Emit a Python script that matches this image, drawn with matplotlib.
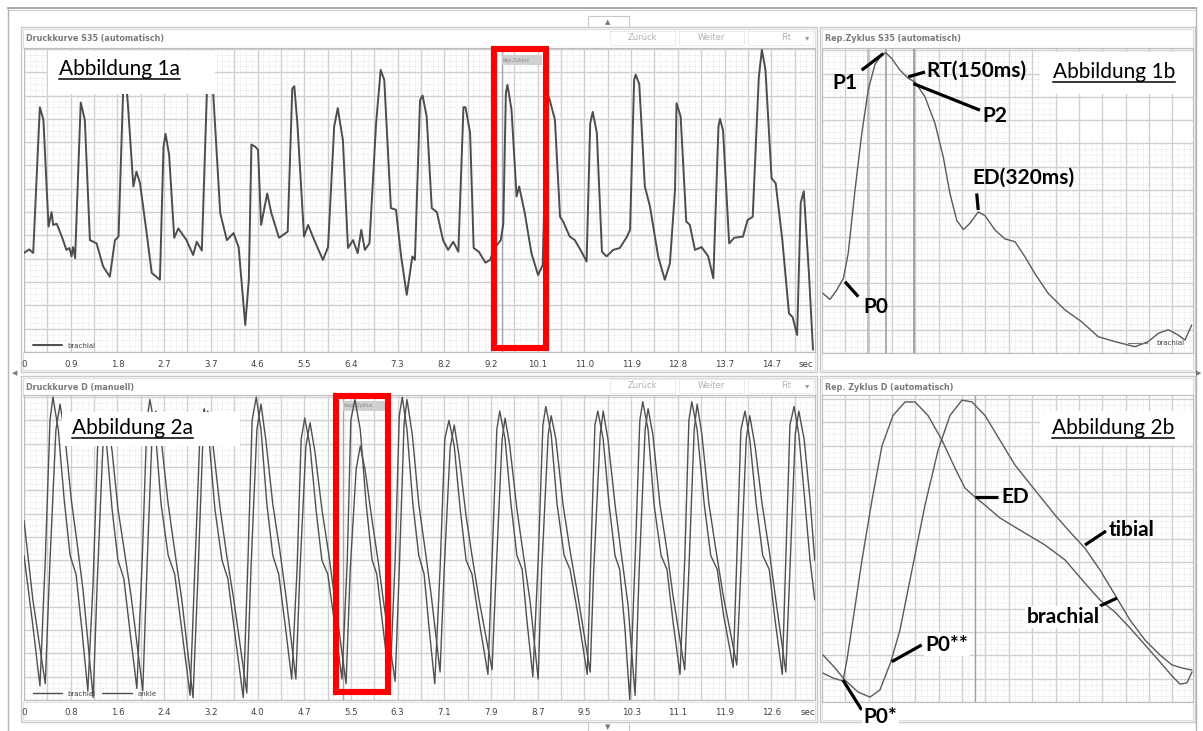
import numpy as np
import matplotlib
matplotlib.use('Agg')
import matplotlib.pyplot as plt
from matplotlib.patches import Rectangle

W, H = 1203, 731

# ---------------- data ----------------
# Abbildung 1a: Druckkurve S35, brachial (time in s, pressure in arbitrary units)
t_1a = [0.00, 0.10, 0.18, 0.31, 0.38, 0.48, 0.54, 0.57, 0.64, 0.74, 0.83, 0.89, 0.93, 0.96, 1.00,
        1.06, 1.11, 1.19, 1.29, 1.42, 1.55, 1.68, 1.78, 1.85, 1.94, 1.97, 2.04, 2.14, 2.20, 2.27,
        2.40, 2.50, 2.66, 2.73, 2.77, 2.84, 2.94, 3.02, 3.18, 3.31, 3.38, 3.48, 3.58, 3.63, 3.70,
        3.84, 3.97, 4.10, 4.20, 4.33, 4.40, 4.45, 4.53, 4.58, 4.64, 4.76, 4.84, 4.99, 5.16, 5.25,
        5.29, 5.35, 5.48, 5.56, 5.68, 5.85, 5.95, 6.07, 6.14, 6.24, 6.34, 6.44, 6.53, 6.60, 6.67,
        6.76, 6.89, 6.98, 7.05, 7.18, 7.28, 7.38, 7.49, 7.60, 7.65, 7.75, 7.80, 7.88, 7.98, 8.08,
        8.20, 8.30, 8.40, 8.50, 8.60, 8.64, 8.73, 8.80, 8.90, 9.03, 9.12, 9.22, 9.33, 9.38, 9.43,
        9.46, 9.54, 9.64, 9.69, 9.80, 9.93, 10.06, 10.15, 10.24, 10.29, 10.39, 10.49, 10.55, 10.68,
        10.78, 10.91, 11.01, 11.08, 11.13, 11.21, 11.31, 11.40, 11.53, 11.66, 11.80, 11.86, 11.94,
        11.97, 12.04, 12.15, 12.25, 12.41, 12.54, 12.64, 12.74, 12.77, 12.85, 12.96, 13.03, 13.13,
        13.26, 13.39, 13.49, 13.59, 13.62, 13.68, 13.80, 13.90, 14.07, 14.16, 14.26, 14.38, 14.44,
        14.51, 14.63, 14.71, 14.84, 14.97, 15.04, 15.13, 15.20, 15.26, 15.36, 15.44]
p_1a = [42.5, 44, 42.5, 105, 99.6, 53.8, 60, 54.5, 55, 49.5, 43.8, 44.6, 41, 45, 40.3,
        76.7, 107, 99.6, 48, 46.6, 36.6, 32.3, 48, 49.5, 112, 125, 104, 71, 77.4, 72.5,
        51, 33.9, 31, 88, 93.6, 84.5, 49, 53, 48, 41.6, 47.3, 43.5, 112, 116, 112,
        59.6, 48, 51, 45, 11.6, 31, 89, 88, 86.7, 54.5, 68, 59.6, 49, 51.6, 113,
        114, 98, 49.5, 54.5, 48, 39.5, 45, 96.7, 104.6, 91, 44.6, 48, 42.4, 52.4, 43.8,
        46.6, 98, 121, 116.7, 61.7, 61, 41, 24.5, 41, 39.5, 108, 110, 101, 61.7, 60,
        48, 43.8, 47.3, 43, 105, 105, 94, 44.6, 43, 38.3, 39.5, 45, 48, 55, 111,
        114.6, 104, 66.7, 71, 59.6, 42.4, 33, 37.3, 111, 108, 99.6, 58, 56, 49.5,
        48, 43, 38.8, 98, 103, 94, 43, 41, 43.8, 44.6, 49.5, 52.4, 116.7,
        119, 115, 71, 62.4, 41, 31, 38, 69.5, 106.7, 101, 56, 54.5, 43.8,
        45, 41, 31.6, 96.7, 100, 95, 46.6, 49, 49.5, 56.6, 58, 118, 129.6,
        121, 74.5, 72.4, 48, 16.6, 15, 7.3, 64, 69, 34, 1]
ticks_1a = ['0', '0.9', '1.8', '2.7', '3.7', '4.6', '5.5', '6.4', '7.3', '8.2', '9.2',
            '10.1', '11.0', '11.9', '12.8', '13.7', '14.7']

# Abbildung 1b: representative cycle S35 (time in ms)
t_1b = [-46, -30, -14.5, 0.8, 12, 27.6, 43, 58, 73.6, 89, 98, 112, 131, 150, 165.6, 188.6,
        211.6, 230.8, 246, 261.6, 276.8, 292, 311, 326.6, 349.6, 372.6, 395.6, 418.6, 441.6,
        472, 510.6, 549, 587, 625.6, 671.6, 702, 725, 748, 771, 786.6, 802]
p_1b = [25.6, 23, 27, 32, 42.8, 70, 94, 113, 124, 128, 129, 126.5, 121.5, 118, 116.4, 110,
        98.6, 84, 68.5, 57, 53, 55.7, 60.6, 59, 52.8, 49, 47.8, 41.3, 34,
        25.6, 18.5, 13.4, 7, 4.9, 2.7, 4.9, 8.4, 10, 7.7, 5.6, 12]
markers_1b = [57.5, 99, 163]

# Abbildung 2a: Druckkurve D, brachial and ankle (time in s)
t_2a_brachial = [0.00, 0.14, 0.27, 0.36, 0.44, 0.49, 0.58, 0.68, 0.78, 0.88, 0.98, 1.08,
                 1.17, 1.25, 1.30, 1.39, 1.49, 1.59, 1.69, 1.79, 1.91,
                 2.00, 2.08, 2.13, 2.22, 2.32, 2.44, 2.55, 2.67, 2.81,
                 2.89, 2.98, 3.05, 3.13, 3.23, 3.35, 3.45, 3.57, 3.71,
                 3.79, 3.86, 3.93, 4.01, 4.11, 4.21, 4.31, 4.42, 4.53,
                 4.62, 4.69, 4.75, 4.84, 4.94, 5.04, 5.14, 5.26, 5.38,
                 5.47, 5.53, 5.60, 5.69, 5.79, 5.89, 5.97, 6.07, 6.19,
                 6.28, 6.35, 6.40, 6.48, 6.58, 6.68, 6.77, 6.85, 6.95,
                 7.04, 7.12, 7.19, 7.28, 7.38, 7.48, 7.58, 7.70, 7.85,
                 7.92, 8.00, 8.05, 8.14, 8.24, 8.34, 8.43, 8.51, 8.61,
                 8.70, 8.78, 8.83, 8.92, 9.02, 9.14, 9.24, 9.37, 9.53,
                 9.59, 9.66, 9.71, 9.80, 9.90, 10.00, 10.08, 10.17, 10.25,
                 10.34, 10.42, 10.47, 10.56, 10.66, 10.78, 10.88, 10.98, 11.10,
                 11.18, 11.25, 11.30, 11.39, 11.51, 11.62, 11.73, 11.84, 12.00,
                 12.06, 12.13, 12.20, 12.28, 12.39, 12.50, 12.61, 12.71, 12.83,
                 12.89, 12.96, 13.03, 13.11, 13.21, 13.30, 13.38]
p_2a_brachial = [62, 34, 6, 60, 120, 130, 116, 86, 62, 54, 30, 4,
                 51, 112, 122, 112, 82, 60, 52, 30, 5,
                 60, 120, 129, 116, 84, 62, 54, 30, 2,
                 56, 116, 125, 112, 82, 60, 52, 28, 1,
                 60, 120, 130, 116, 84, 62, 54, 32, 9,
                 56, 112, 121, 109, 82, 60, 54, 32, 9,
                 60, 120, 129, 116, 84, 60, 54, 32, 6,
                 60, 122, 130, 116, 84, 62, 54, 32, 7,
                 56, 112, 120, 109, 82, 60, 54, 34, 11,
                 60, 116, 124, 112, 84, 62, 56, 34, 10,
                 60, 118, 126, 114, 84, 62, 56, 37, 11,
                 60, 118, 124, 112, 84, 62, 56, 30, 0,
                 60, 120, 128, 116, 84, 62, 56, 34, 11,
                 60, 120, 128, 116, 84, 62, 56, 36, 14,
                 60, 116, 124, 112, 84, 62, 56, 34, 11,
                 60, 118, 126, 114, 86, 60, 43]
t_2a_ankle = [0.00, 0.15, 0.36,
              0.44, 0.54, 0.61, 0.69, 0.80, 0.90, 1.00, 1.17,
              1.24, 1.34, 1.40, 1.49, 1.59, 1.71, 1.81, 2.01,
              2.08, 2.17, 2.23, 2.32, 2.44, 2.55, 2.67, 2.86,
              2.94, 3.03, 3.11, 3.20, 3.32, 3.43, 3.55, 3.77,
              3.84, 3.94, 4.01, 4.09, 4.21, 4.33, 4.43, 4.60,
              4.67, 4.77, 4.84, 4.92, 5.04, 5.16, 5.26, 5.45,
              5.52, 5.62, 5.69, 5.77, 5.89, 5.99, 6.09, 6.28,
              6.35, 6.43, 6.48, 6.57, 6.68, 6.79, 6.89, 7.04,
              7.11, 7.21, 7.28, 7.36, 7.48, 7.58, 7.70, 7.92,
              7.99, 8.09, 8.14, 8.22, 8.34, 8.44, 8.56, 8.70,
              8.76, 8.87, 8.92, 9.00, 9.12, 9.24, 9.37, 9.58,
              9.64, 9.75, 9.80, 9.88, 10.00, 10.10, 10.22, 10.34,
              10.41, 10.51, 10.56, 10.64, 10.76, 10.88, 10.98, 11.18,
              11.25, 11.34, 11.39, 11.47, 11.59, 11.71, 11.83, 12.06,
              12.13, 12.22, 12.28, 12.37, 12.49, 12.61, 12.71, 12.89,
              12.96, 13.05, 13.11, 13.20, 13.30, 13.38]
p_2a_ankle = [77, 43, 7,
              60, 116, 127, 114, 86, 67, 47, 1,
              51, 112, 120, 107, 82, 62, 45, 4,
              56, 116, 124, 112, 84, 64, 43, 1,
              51, 114, 124, 109, 82, 62, 43, 3,
              56, 116, 127, 112, 84, 64, 45, 9,
              56, 109, 119, 107, 82, 62, 43, 7,
              56, 99, 109, 99, 77, 60, 41, 8,
              56, 118, 129, 114, 84, 64, 45, 12,
              56, 108, 118, 105, 79, 62, 43, 13,
              56, 112, 121, 109, 82, 64, 43, 9,
              56, 114, 122, 112, 84, 64, 45, 12,
              56, 114, 124, 112, 84, 64, 41, 2,
              56, 116, 125, 114, 84, 64, 45, 13,
              56, 116, 127, 114, 84, 64, 45, 15,
              56, 112, 122, 109, 84, 64, 45, 12,
              56, 114, 124, 112, 86, 60]
ticks_2a = ['0', '0.8', '1.6', '2.4', '3.2', '4.0', '4.7', '5.5', '6.3', '7.1', '7.9',
            '8.7', '9.5', '10.3', '11.1', '11.9', '12.6']

# Abbildung 2b: representative cycle D (time in ms)
t_2b_brachial = [-46, -23, 0, 9, 23, 43.7, 66.7, 89.7, 115, 142.6, 165.6, 195.5, 227.7, 257.6,
                 280.6, 303.6, 326.6, 361, 407, 464.6, 510.6, 556.6, 591, 625.6, 660, 694.6,
                 729, 756.7, 775, 791, 802.7]
p_2b_brachial = [12.4, 10.3, 9, 18, 35.2, 61, 86.7, 110, 123, 128.8, 128.8, 123, 112.4, 100.4,
                 91.8, 88, 84.5, 79, 73.8, 67.4, 61, 51, 43.8, 38.6, 31.8, 24.5,
                 17.2, 11.2, 7.7, 8.2, 12.9]
t_2b_tibial = [-46, -18.4, 4.6, 34.5, 62, 85, 110, 131, 158.7, 188.6, 218.5, 246, 273.7, 296.7,
               326.6, 361, 395.6, 441.6, 487.6, 522, 556.6, 591, 625.6, 660, 694.6, 729,
               756.7, 779.7, 802.7]
p_2b_tibial = [20.2, 14.6, 9.4, 4.3, 2.1, 5.2, 17.2, 30.9, 56.7, 84.5, 108, 123, 129.6, 128.8,
               123, 112.4, 101.7, 91, 80.3, 73, 66, 56.7, 46, 35.2, 26.6, 20.2,
               15.9, 14.6, 13.7]
markers_2b = [303.6]

# ---------------- figure ----------------
plt.rcParams['font.family'] = ['DejaVu Sans']
fig = plt.figure(figsize=(W / 100, H / 100), dpi=100)
fig.patch.set_facecolor('white')

bg = fig.add_axes([0, 0, 1, 1], zorder=0)
bg.set_xlim(0, W)
bg.set_ylim(H, 0)
bg.axis('off')

UI = '#c9c9c9'
TXT = '#7a7a7a'

# window chrome
bg.plot([8, 1196], [8, 8], color='#9a9a9a', lw=1.2)
bg.plot([8, 1196], [10, 10], color='#cccccc', lw=0.8)
bg.plot([8, 8], [8, H], color='#b5b5b5', lw=1.0)
bg.plot([1196, 1196], [8, H], color='#b5b5b5', lw=1.0)
bg.add_patch(Rectangle((588, 16), 41, 12, fc='white', ec=UI, lw=0.8))
bg.text(608, 22.5, '▲', ha='center', va='center', fontsize=5, color='#777')
bg.add_patch(Rectangle((588, 722), 41, 12, fc='white', ec=UI, lw=0.8))
bg.text(608, 727, '▼', ha='center', va='center', fontsize=5, color='#777')
bg.text(15, 373, '◀', ha='center', va='center', fontsize=5, color='#777')
bg.text(1199, 373, '▶', ha='center', va='center', fontsize=5, color='#777')

panels = [(21, 27, 817, 372), (820, 27, 1195, 372), (21, 376, 817, 722), (820, 376, 1195, 722)]
for x0, y0, x1, y1 in panels:
    bg.add_patch(Rectangle((x0, y0), x1 - x0, y1 - y0, fc='white', ec=UI, lw=1.0))
    bg.add_patch(Rectangle((x0 + 2, y0 + 2), x1 - x0 - 4, 19, fc='white', ec='#dedede', lw=0.8))
    bg.add_patch(Rectangle((x0 + 2, y1 - 20), x1 - x0 - 4, 18, fc='white', ec='#dedede', lw=0.8))

titles = [(26, 38.5, 'Druckkurve S35 (automatisch)'), (825, 38.5, 'Rep.Zyklus S35 (automatisch)'),
          (26, 387.5, 'Druckkurve D (manuell)'), (825, 387.5, 'Rep. Zyklus D (automatisch)')]
for x, y, s in titles:
    bg.text(x, y, s, fontsize=5.8, fontweight='bold', color=TXT, va='center')

for yb in (31, 379):
    for (x0, x1, s) in [(610, 675, 'Zurück'), (679, 744, 'Weiter'), (748, 813, 'Fit')]:
        bg.add_patch(Rectangle((x0, yb), x1 - x0, 14, fc='white', ec='#d8d8d8', lw=0.7, ls=(0, (1, 1))))
        bg.text((x0 + x1) / 2 + (6 if s == 'Fit' else 0), yb + 7, s, fontsize=6, color='#b0b0b0',
                ha='center', va='center')
    bg.text(807, yb + 7, '▾', fontsize=6, color='#999', ha='center', va='center')


def px_axes(x0, y0, x1, y1):
    return fig.add_axes([x0 / W, 1 - y1 / H, (x1 - x0) / W, (y1 - y0) / H], zorder=2)


def paper(ax, xlim, ylim, cx, cy):
    ax.set_xlim(*xlim)
    ax.set_ylim(*ylim)
    xs = np.arange(xlim[0], xlim[1] + 1e-6, cx / 4)
    ys = np.arange(ylim[0], ylim[1] + 1e-6, cy / 4)
    ax.vlines(xs, *ylim, color='#d8d8d8', lw=0.6, linestyles=(0, (0.7, 1.5)), zorder=0.2)
    ax.hlines(ys, *xlim, color='#d8d8d8', lw=0.6, linestyles=(0, (0.7, 1.5)), zorder=0.2)
    ax.vlines(np.arange(xlim[0], xlim[1] + 1e-6, cx), *ylim, color='#d0d0d0', lw=1.0, zorder=0.5)
    ax.hlines(np.arange(ylim[0], ylim[1] + 1e-6, cy), *xlim, color='#d0d0d0', lw=1.0, zorder=0.5)
    ax.set_yticks([])
    for s in ax.spines.values():
        s.set_color('#bdbdbd')
        s.set_linewidth(0.8)
    ax.tick_params(length=0, labelsize=6.2, labelcolor='#404040', pad=6)


LINE = dict(solid_joinstyle='round', solid_capstyle='round')

# --- 1a ---
ax1a = px_axes(24, 48, 815, 352)
step1 = 46.7 / 51.1
paper(ax1a, (0, 791 / 51.1), (0, 130.4), step1 / 2, 10)
ax1a.set_xticks(list(np.arange(len(ticks_1a)) * step1) + [15.3], ticks_1a + ['sec'])
ax1a.plot(t_1a, p_1a, color='#4d4d4d', lw=1.4, zorder=3, label='brachial', **LINE)
ax1a.axvline(9.35, color='#a8a8a8', lw=1.0, zorder=2)
ax1a.add_patch(Rectangle((9.35, 123), 0.78, 4.5, fc='#d0d0d0', ec='none', zorder=2))
ax1a.text(9.37, 125.2, 'Rep.Zyklus', fontsize=3.5, color='#888', va='center', zorder=2)
ax1a.add_patch(Rectangle((9.19, 1.7), 1.02, 128.1, fill=False, ec='#ff0000', lw=4.4,
                         zorder=6, clip_on=False))
ax1a.legend(loc='lower left', bbox_to_anchor=(0.003, -0.01), frameon=False, fontsize=5,
            handlelength=4.2, labelcolor='#444')

# --- 1b ---
ax1b = px_axes(822, 48, 1193, 353)
paper(ax1b, ((822 - 843) * 2.3, (1193 - 843) * 2.3), (0, 131), 23.35 * 2.3, 10)
ax1b.set_xticks([])
ax1b.add_patch(Rectangle((485, 92), 320, 30, fc='white', ec='none', zorder=0.3))
ax1b.vlines(markers_1b, 0, 131, color=['#b0b0b0', '#999999', '#8c8c8c'], lw=1.1, zorder=1)
ax1b.plot(t_1b, p_1b, color='#5a5a5a', lw=1.0, zorder=3, **LINE)
ax1b.plot([655, 700], [4.3, 4.3], color='#777', lw=0.8, zorder=3)
ax1b.text(720, 4.3, 'brachial', fontsize=5, color='#444', va='center', zorder=3)

# --- 2a ---
ax2a = px_axes(24, 395, 815, 700)
step2 = 46.7 / 59.1
paper(ax2a, (0, 791 / 59.1), (0, 130.9), step2 / 2, 10)
ax2a.set_xticks(list(np.arange(len(ticks_2a)) * step2) + [13.27], ticks_2a + ['sec'])
ax2a.plot(t_2a_brachial, p_2a_brachial, color='#505050', lw=1.0, zorder=3, label='brachial', **LINE)
ax2a.plot(t_2a_ankle, p_2a_ankle, color='#505050', lw=1.0, zorder=3, label='ankle', **LINE)
ax2a.axvline(5.40, color='#a8a8a8', lw=1.0, zorder=2)
ax2a.add_patch(Rectangle((5.40, 124), 0.72, 4.5, fc='#d0d0d0', ec='none', zorder=2))
ax2a.text(5.42, 126.2, 'Rep. Zyklus', fontsize=3.5, color='#888', va='center', zorder=2)
ax2a.add_patch(Rectangle((5.28, 3.4), 0.88, 127.1, fill=False, ec='#ff0000', lw=4.4,
                         zorder=6, clip_on=False))
ax2a.legend(loc='lower left', bbox_to_anchor=(0.003, -0.01), frameon=False, fontsize=5,
            handlelength=4.2, ncol=2, columnspacing=1.0, labelcolor='#444')

# --- 2b ---
ax2b = px_axes(822, 395, 1193, 702)
paper(ax2b, ((822 - 843) * 2.3, (1193 - 843) * 2.3), (0, 131.8), 23.35 * 2.3, 10)
ax2b.set_xticks([])
ax2b.vlines(markers_2b, 0, 131.8, color='#a0a0a0', lw=1.0, zorder=1)
ax2b.plot(t_2b_brachial, p_2b_brachial, color='#5a5a5a', lw=1.0, zorder=3, **LINE)
ax2b.plot(t_2b_tibial, p_2b_tibial, color='#5a5a5a', lw=1.0, zorder=3, **LINE)

# ---- annotations ----
LBL = dict(fontsize=15, fontweight='bold', family=['Lato', 'DejaVu Sans'], color='black', zorder=8)


def pointer(ax, a, b):
    ax.plot([a[0], b[0]], [a[1], b[1]], color='black', lw=2.3, zorder=7,
            solid_capstyle='butt', clip_on=False)


pointer(ax1b, (92.7, 128.6), (43, 121.5))
ax1b.text(4.6, 115.9, 'P1', ha='center', va='center', **LBL)
pointer(ax1b, (150, 118.6), (188.6, 120.7))
ax1b.text(192, 121.2, 'RT(150ms)', ha='left', va='center', **LBL)
pointer(ax1b, (161.7, 115.7), (315, 104.3))
ax1b.text(349.6, 102, 'P2', ha='center', va='center', **LBL)
pointer(ax1b, (311, 61.4), (307.5, 68.5))
ax1b.text(414, 75.5, 'ED(320ms)', ha='center', va='center', **LBL)
pointer(ax1b, (4.6, 30.6), (35.2, 24.2))
ax1b.text(75.9, 19.7, 'P0', ha='center', va='center', **LBL)

pointer(ax2b, (303.6, 88), (356.5, 88))
ax2b.text(364, 88, 'ED', ha='left', va='center', **LBL)
pointer(ax2b, (556.6, 67.4), (604.9, 73.4))
ax2b.text(612, 73.8, 'tibial', ha='left', va='center', **LBL)
pointer(ax2b, (630, 44.6), (591, 41.2))
ax2b.text(506, 36.5, 'brachial', ha='center', va='center',
          bbox=dict(fc='white', ec='none', pad=1), **LBL)
pointer(ax2b, (112, 17.3), (181, 24.5))
ax2b.text(190, 24.5, 'P0**', ha='left', va='center',
          bbox=dict(fc='white', ec='none', pad=1), **LBL)
pointer(ax2b, (0, 9.4), (43, -3.4))
ax2b.text(47, -6.6, 'P0*', ha='left', va='center', clip_on=False,
          bbox=dict(fc='white', ec='none', pad=1), **LBL)

# figure labels
ov = fig.add_axes([0, 0, 1, 1], zorder=10)
ov.set_xlim(0, W)
ov.set_ylim(H, 0)
ov.axis('off')
boxes = [((48, 51), (167, 43), 59, 75, 'Abbildung 1a'),
         ((1040, 52), (153, 42), 1053, 78, 'Abbildung 1b'),
         ((62, 412), (178, 34), 72, 434, 'Abbildung 2a'),
         ((1040, 411), (153, 34), 1052, 434, 'Abbildung 2b')]
texts = []
for (bx, by), (bw, bh), tx, ty, s in boxes:
    ov.add_patch(Rectangle((bx, by), bw, bh, fc='white', ec='none'))
    texts.append(ov.text(tx, ty, s, fontsize=15, family=['Lato', 'DejaVu Sans'],
                         color='black', va='baseline', ha='left'))

fig.canvas.draw()
inv = ov.transData.inverted()
for t in texts:
    bb = t.get_window_extent()
    (xa, _), (xb, _) = inv.transform([(bb.x0, 0), (bb.x1, 0)])
    y = t.get_position()[1] + 4
    ov.plot([xa, xb], [y, y], color='black', lw=1.1)

fig.savefig('out.png', dpi=100)
